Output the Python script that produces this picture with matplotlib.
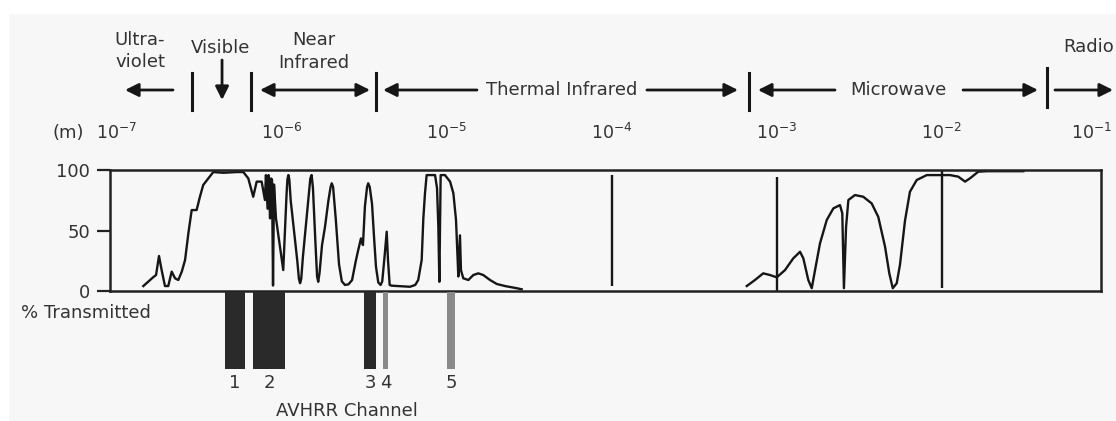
import matplotlib
matplotlib.use("Agg")
import matplotlib.pyplot as plt
from matplotlib.transforms import blended_transform_factory
from matplotlib.patches import Rectangle

# ---------------- data (x = log10 of wavelength in metres, y = % transmitted) -------------
opt_logwl = [-6.838, -6.778, -6.761, -6.743, -6.727, -6.707, -6.687, -6.666, -6.646, -6.626,
             -6.605, -6.585, -6.565, -6.545, -6.515, -6.495, -6.475, -6.444, -6.414, -6.353,
             -6.272, -6.232, -6.202, -6.172, -6.151, -6.121, -6.101, -6.095, -6.085, -6.079,
             -6.070, -6.064, -6.058, -6.052, -6.046, -6.034, -5.990, -5.970, -5.965, -5.959,
             -5.953, -5.945, -5.905, -5.895, -5.888, -5.881, -5.871, -5.835, -5.826, -5.818,
             -5.810, -5.795, -5.785, -5.778, -5.770, -5.755, -5.737, -5.716, -5.703, -5.696,
             -5.688, -5.672, -5.652, -5.635, -5.616, -5.595, -5.573, -5.550, -5.537, -5.519,
             -5.507, -5.495, -5.482, -5.475, -5.466, -5.452, -5.440, -5.428, -5.414, -5.400,
             -5.390, -5.375, -5.363, -5.355, -5.345, -5.333, -5.222, -5.190, -5.172, -5.151,
             -5.141, -5.131, -5.121, -5.070, -5.058, -5.050, -5.044, -5.036, -5.010, -4.979,
             -4.959, -4.943, -4.933, -4.929, -4.919, -4.913, -4.899, -4.868, -4.838, -4.808,
             -4.778, -4.737, -4.696, -4.646, -4.575, -4.545]
opt_trans = [4.1, 11.4, 13.2, 28.9, 17.3, 4.1, 4.1, 16.0, 10.5, 9.1,
             16.0, 25.6, 47.7, 66.9, 66.9, 77.9, 87.6, 93.1, 98.3, 97.7,
             98.3, 98.3, 93.1, 77.9, 90.4, 90.4, 75.2, 95.8, 68.0, 95.8,
             60.0, 93.0, 92.0, 4.5, 88.0, 60.0, 17.3, 80.0, 92.0, 95.8,
             92.0, 75.0, 25.0, 10.0, 6.4, 10.0, 28.0, 80.0, 93.0, 95.8,
             85.0, 40.0, 12.0, 7.6, 15.0, 38.0, 53.0, 75.0, 86.0, 89.0,
             86.0, 60.0, 22.0, 8.0, 5.0, 5.5, 9.0, 25.0, 33.0, 43.5,
             38.0, 70.0, 86.0, 89.0, 86.0, 72.0, 45.0, 20.0, 7.0, 5.0,
             8.0, 30.0, 49.0, 25.0, 5.0, 4.4, 3.5, 5.0, 9.1, 25.6,
             60.0, 80.8, 95.8, 95.8, 85.0, 53.0, 7.6, 95.8, 95.8, 90.4,
             80.8, 58.7, 25.6, 12.0, 46.0, 17.3, 10.5, 9.1, 13.2, 14.6,
             13.2, 9.1, 5.8, 4.1, 2.3, 1.4]

mw_logwl = [-3.181, -3.131, -3.081, -3.040, -2.999, -2.949, -2.899, -2.858, -2.838, -2.808,
            -2.787, -2.767, -2.737, -2.696, -2.656, -2.616, -2.602, -2.592, -2.579, -2.565,
            -2.525, -2.475, -2.424, -2.384, -2.343, -2.317, -2.296, -2.272, -2.252, -2.222,
            -2.192, -2.151, -2.090, -2.010, -1.949, -1.899, -1.858, -1.828, -1.778, -1.727,
            -1.505]
mw_trans = [4.1, 9.1, 14.6, 13.2, 11.3, 17.3, 27.0, 32.4, 27.0, 9.1,
            2.3, 17.3, 39.4, 58.7, 68.3, 71.0, 64.2, 2.3, 53.1, 75.2,
            79.3, 77.9, 72.4, 61.3, 36.7, 14.6, 2.3, 6.4, 22.0, 58.0,
            82.0, 91.7, 95.8, 95.8, 95.8, 94.5, 90.4, 93.1, 98.6, 99.0,
            99.0]

decade_exponents = [-7, -6, -5, -4, -3, -2, -1]
marker_logwl = [-4, -3, -2]
marker_low = [4.0, 0.0, 2.5]
marker_high = [96.0, 94.0, 99.0]

region_bounds = [-6.543, -6.185, -5.428, -3.167, -1.361]

avhrr_labels = ["1", "2", "3", "4", "5"]
avhrr_start = [-6.343, -6.173, -5.501, -5.385, -4.998]
avhrr_end = [-6.222, -5.979, -5.428, -5.355, -4.949]

# ---------------- figure -----------------------------------------------------------------
W, H = 1116, 421
plt.rcParams['font.family'] = ['DejaVu Sans']
plt.rcParams['mathtext.fontset'] = 'dejavusans'
fig = plt.figure(figsize=(W / 100, H / 100), dpi=100, facecolor='white')
fig.patches.append(Rectangle((9 / W, 0), 1 - 9 / W, 1 - 14 / H, transform=fig.transFigure,
                             facecolor='#f7f7f7', edgecolor='none', zorder=-10))

INK = '#161616'
TXT = '#333333'

def fy(py):
    return 1 - py / H

ax = fig.add_axes([110 / W, fy(291), 991 / W, 121 / H])
ax.set_facecolor('none')
ax.set_xlim(-7.04, -1.034)
ax.set_ylim(0, 100)
ax.plot(opt_logwl, opt_trans, color=INK, lw=1.7, clip_on=False, solid_joinstyle='round')
ax.plot(mw_logwl, mw_trans, color=INK, lw=1.7, clip_on=False, solid_joinstyle='round')
ax.vlines(marker_logwl, marker_low, marker_high, color=INK, lw=1.7)

ax.set_xticks([])
ax.set_yticks([0, 50, 100])
ax.tick_params(axis='y', direction='out', length=9.4, width=1.6, pad=5,
               labelsize=13, color='#222222', labelcolor=TXT)
for s in ax.spines.values():
    s.set_linewidth(1.8)
    s.set_color('#222222')

trans = blended_transform_factory(ax.transData, fig.transFigure)

# wavelength decade labels
fig.text(68 / W, fy(133), '(m)', ha='center', va='center', fontsize=13, color=TXT)
for k in decade_exponents:
    last = (k == decade_exponents[-1])
    ax.annotate(rf'$10^{{{k}}}$', xy=(k, fy(133)), xycoords=trans,
                xytext=(-11 if last else 0, 0), textcoords='offset points',
                ha='center', va='center', fontsize=12.5, color=TXT, annotation_clip=False)

# region boundaries
for i, b in enumerate(region_bounds):
    y0, y1 = (73, 110) if i < 4 else (68, 107)
    ax.plot([b, b], [fy(y0), fy(y1)], transform=trans, color=INK, lw=2.2, clip_on=False)

def arrow(x_tail, x_head, py, style='-|>'):
    ax.annotate('', xy=(x_head, fy(py)), xytext=(x_tail, fy(py)), xycoords=trans,
                textcoords=trans,
                arrowprops=dict(arrowstyle=style, color=INK, lw=2.0, mutation_scale=20,
                                shrinkA=0, shrinkB=0))

def label(x, py, s, ha='center'):
    ax.text(x, fy(py), s, transform=trans, ha=ha, va='center', fontsize=13,
            color=TXT, clip_on=False)

# Ultraviolet
label(-6.858, 40, 'Ultra-')
label(-6.858, 62, 'violet')
arrow(-6.658, -6.949, 90)
# Visible
label(-6.373, 48, 'Visible')
ax.annotate('', xy=(-6.361, fy(100)), xytext=(-6.361, fy(60)), xycoords=trans, textcoords=trans,
            arrowprops=dict(arrowstyle='-|>', color=INK, lw=2.0, mutation_scale=20,
                            shrinkA=0, shrinkB=0))
# Near infrared
label(-5.804, 40, 'Near')
label(-5.804, 63, 'Infrared')
arrow(-6.131, -5.464, 90, '<|-|>')
# Thermal infrared
label(-4.301, 90, 'Thermal Infrared')
arrow(-4.816, -5.385, 90)
arrow(-3.786, -3.234, 90)
# Microwave
label(-2.264, 90, 'Microwave')
arrow(-2.646, -3.113, 90)
arrow(-1.870, -1.416, 90)
# Radio
label(-1.263, 47, 'Radio', ha='left')
arrow(-1.313, -0.961, 90)

# ---------------- AVHRR channels ---------------------------------------------------------
ax2 = fig.add_axes([110 / W, fy(369), 991 / W, 77 / H])
ax2.set_xlim(ax.get_xlim())
ax2.set_ylim(0, 1)
ax2.axis('off')
colors = ['#2a2a2a', '#2a2a2a', '#2a2a2a', '#8a8a8a', '#8a8a8a']
trans2 = blended_transform_factory(ax2.transData, fig.transFigure)
for lab, s, e, c in zip(avhrr_labels, avhrr_start, avhrr_end, colors):
    ax2.bar(s, 1, width=e - s, align='edge', color=c, edgecolor='none')
    ax2.text((s + e) / 2, fy(383), lab, transform=trans2, ha='center', va='center',
             fontsize=13, color=TXT)
ax2.text(-5.604, fy(411), 'AVHRR Channel', transform=trans2, ha='center', va='center',
         fontsize=13, color=TXT)

fig.text(86 / W, fy(313), '% Transmitted', ha='center', va='center', fontsize=13, color=TXT)

fig.savefig('out.png', dpi=100, facecolor=fig.get_facecolor())
